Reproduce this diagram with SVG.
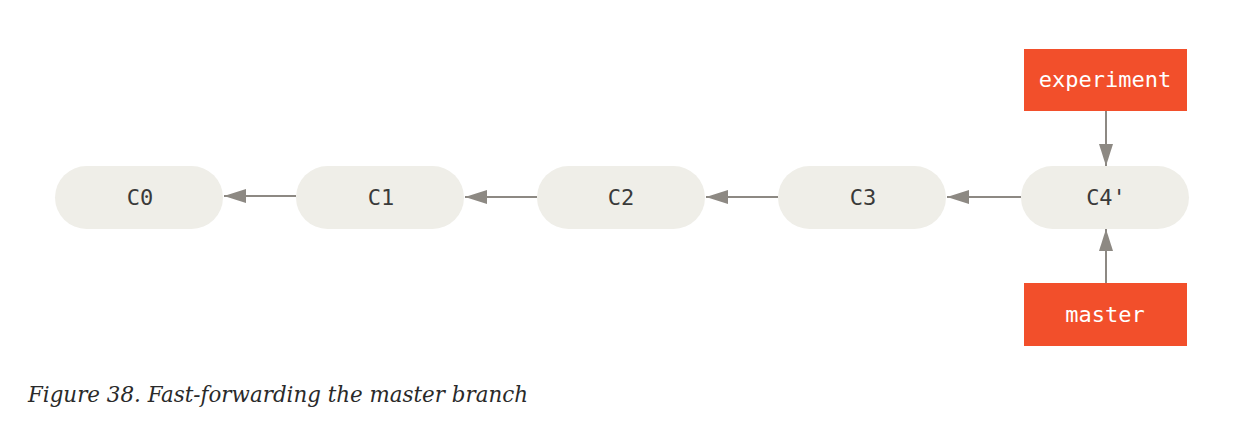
<svg xmlns="http://www.w3.org/2000/svg" width="1235" height="433" viewBox="0 0 1235 433">
<defs>
<style>
.commit rect{fill:#efeee8}
.commit text{font-family:"DejaVu Sans Mono","Liberation Mono",monospace;font-size:22px;fill:#3a3a3a;text-anchor:middle}
.branch rect{fill:#f24f2b}
.branch text{font-family:"DejaVu Sans Mono","Liberation Mono",monospace;font-size:22px;fill:#ffffff;text-anchor:middle}
.edge{stroke:#8d8983;stroke-width:2;fill:none;marker-end:url(#arr)}
.caption{font-family:"DejaVu Serif","Liberation Serif",serif;font-style:italic;font-size:23px;fill:#2a2a2a}
</style>
<marker id="arr" markerWidth="22" markerHeight="14" refX="22" refY="7" orient="auto" markerUnits="userSpaceOnUse">
<path d="M0,0 L22,7 L0,14 Z" fill="#8d8983"/>
</marker>
</defs>
<rect width="1235" height="433" fill="#ffffff"/>
<g id="connectors">
<line class="edge" x1="296" y1="196" x2="224" y2="196"/>
<line class="edge" x1="537" y1="197" x2="465" y2="197"/>
<line class="edge" x1="778" y1="197" x2="706" y2="197"/>
<line class="edge" x1="1021" y1="197" x2="947" y2="197"/>
<line class="edge" x1="1106" y1="111" x2="1106" y2="166"/>
<line class="edge" x1="1106" y1="283" x2="1106" y2="229"/>
</g>
<g id="C0" class="commit"><rect x="55" y="166" width="168" height="63" rx="31.5"/><text x="140" y="205">C0</text></g>
<g id="C1" class="commit"><rect x="296" y="166" width="168" height="63" rx="31.5"/><text x="381" y="205">C1</text></g>
<g id="C2" class="commit"><rect x="537" y="166" width="168" height="63" rx="31.5"/><text x="621" y="205">C2</text></g>
<g id="C3" class="commit"><rect x="778" y="166" width="168" height="63" rx="31.5"/><text x="863" y="205">C3</text></g>
<g id="C4p" class="commit"><rect x="1021" y="166" width="168" height="63" rx="31.5"/><text x="1106" y="205">C4'</text></g>
<g id="experiment" class="branch"><rect x="1024" y="49" width="163" height="62"/><text x="1105" y="87">experiment</text></g>
<g id="master" class="branch"><rect x="1024" y="283" width="163" height="63"/><text x="1105" y="322">master</text></g>
<text class="caption" x="28" y="402" textLength="500" lengthAdjust="spacingAndGlyphs">Figure 38. Fast-forwarding the master branch</text>
</svg>
